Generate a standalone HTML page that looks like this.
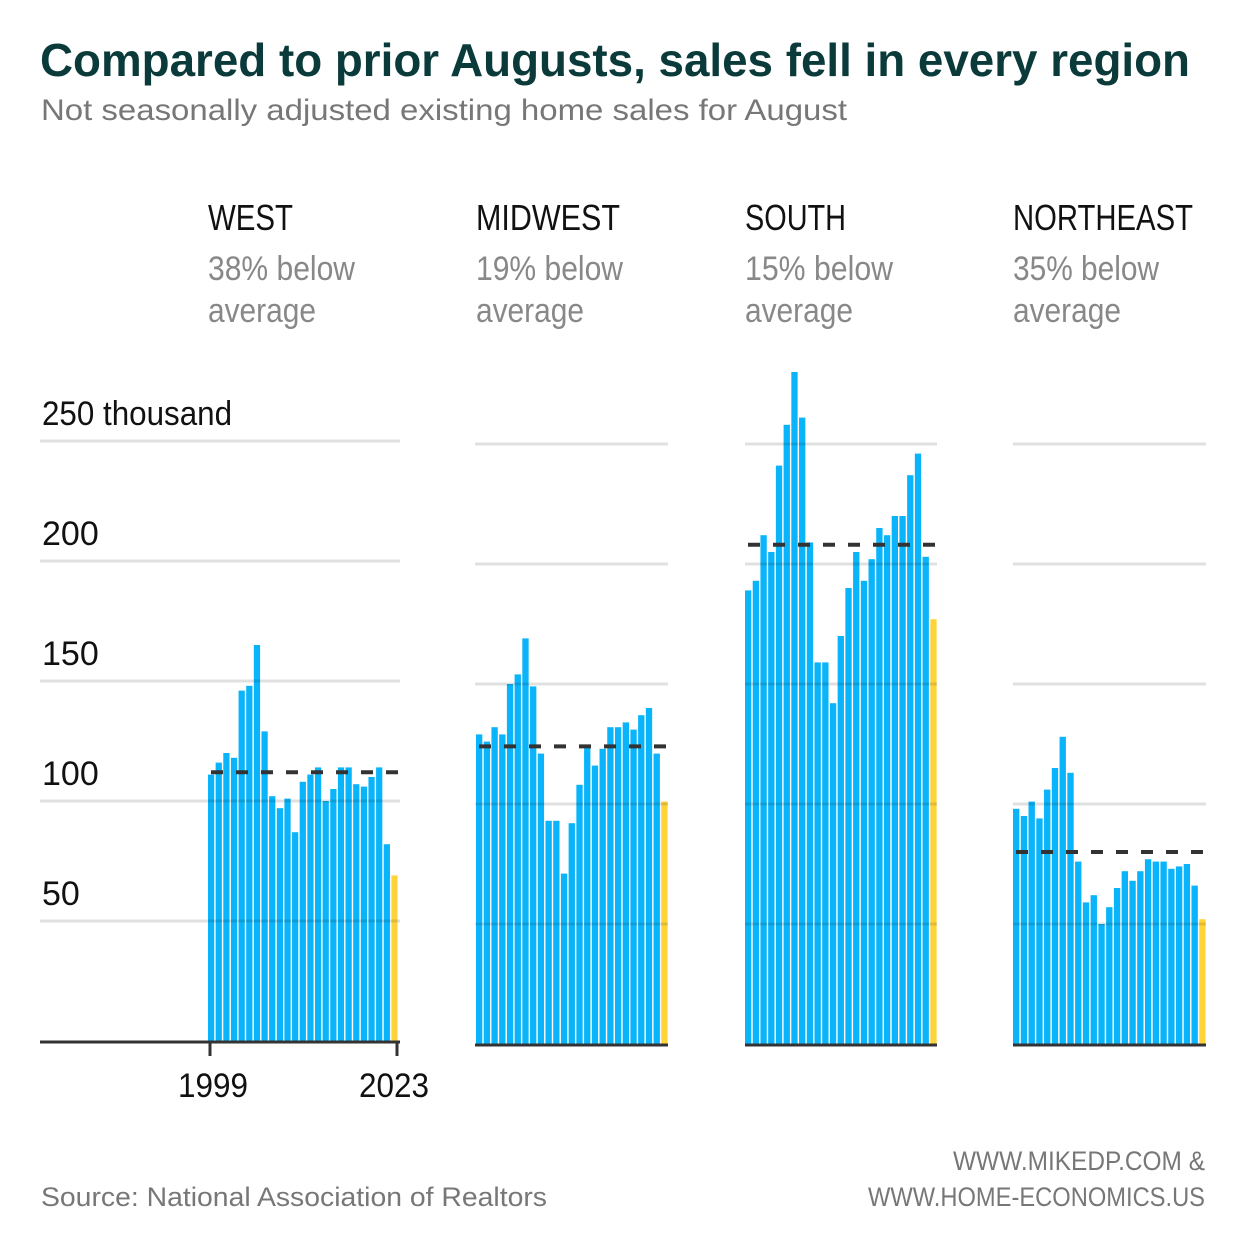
<!DOCTYPE html>
<html><head><meta charset="utf-8"><style>
body{margin:0;background:#fff}
svg text{font-family:"Liberation Sans",sans-serif}
</style></head><body>
<svg id="c" width="1250" height="1250" viewBox="0 0 1250 1250" xmlns="http://www.w3.org/2000/svg">
<text x="40" y="76" font-size="46" font-weight="bold" fill="#0b3a3a" textLength="1150" lengthAdjust="spacingAndGlyphs">Compared to prior Augusts, sales fell in every region</text>
<text x="41" y="120" font-size="30" fill="#777" textLength="806" lengthAdjust="spacingAndGlyphs">Not seasonally adjusted existing home sales for August</text>
<text x="41" y="1206" font-size="27" fill="#777" textLength="506" lengthAdjust="spacingAndGlyphs">Source: National Association of Realtors</text>
<text x="953" y="1170" font-size="27" fill="#777" textLength="252" lengthAdjust="spacingAndGlyphs">WWW.MIKEDP.COM &amp;</text>
<text x="868" y="1206" font-size="27" fill="#777" textLength="337" lengthAdjust="spacingAndGlyphs">WWW.HOME-ECONOMICS.US</text>
<g id="plot"></g>
</svg>
<script>
const regions = ["WEST","MIDWEST","SOUTH","NORTHEAST"];
const notes = ["38% below","19% below","15% below","35% below"];
const years = [1999,2023];
const yTicks = [50,100,150,200,250];
const west = [111,116,120,118,146,148,165,129,102,97,101,87,108,111,114,100,105,114,114,107,106,110,114,82,69];
const midwest = [129,126,132,129,150,154,169,149,121,93,93,71,92,108,124,116,123,132,132,134,131,137,140,121,101];
const south = [189,193,212,205,241,258,280,261,209,159,159,142,170,190,205,193,202,215,212,220,220,237,246,203,177];
const northeast = [98,95,101,94,106,115,128,113,76,59,62,50,57,65,72,68,72,77,76,76,73,74,75,66,52];
const averages = [112,124,208,80];
const series = [west,midwest,south,northeast];

const svg = document.getElementById('plot');
const NS = "http://www.w3.org/2000/svg";
function mk(tag, attrs){const e=document.createElementNS(NS,tag);for(const k in attrs)e.setAttribute(k,attrs[k]);svg.appendChild(e);return e;}
const panels = [
 {gx0:40,gx1:400,bx0:208,bx1:399,base:1041},
 {gx0:475,gx1:668,bx0:476,bx1:669,base:1044},
 {gx0:745,gx1:937,bx0:745,bx1:938,base:1044},
 {gx0:1013,gx1:1206,bx0:1013,bx1:1207,base:1044}
];
const labelW = [85,144,101,180];
const noteW = [147,147,148,146];
const K = 2.4;
panels.forEach((p,pi)=>{
  const y = v => p.base - v*K;
  const data = series[pi];
  const pitch = (p.bx1-p.bx0)/data.length;
  data.forEach((v,i)=>{
    const r = mk('rect',{x:(p.bx0+i*pitch).toFixed(2),y:y(v).toFixed(2),width:(pitch-1.4).toFixed(2),height:(v*K).toFixed(2),fill:i===data.length-1?'#ffd43b':'#0ab4fb'});
    
    
  });
  yTicks.forEach(t=>{
    const l = mk('line',{x1:p.gx0,x2:p.gx1,y1:y(t),y2:y(t),stroke:'rgba(0,0,0,0.12)','stroke-width':3});
    
    
  });
  const a = mk('line',{x1:p.bx0+3,x2:p.bx1,y1:y(averages[pi]),y2:y(averages[pi]),stroke:'#333','stroke-width':4,'stroke-dasharray':'12 13'});
  
  
  const b = mk('line',{x1:p.gx0,x2:p.gx1,y1:p.base+1,y2:p.base+1,stroke:'#333','stroke-width':3});
  
  
  const h = mk('text',{x:p.bx0,y:230,'font-size':36,fill:'#111',textLength:labelW[pi],lengthAdjust:'spacingAndGlyphs'});
  h.textContent = regions[pi];
  
  
  const n1 = mk('text',{x:p.bx0,y:280,'font-size':34,fill:'#888',textLength:noteW[pi],lengthAdjust:'spacingAndGlyphs'});
  n1.textContent = notes[pi];
  
  
  const n2 = mk('text',{x:p.bx0,y:322,'font-size':34,fill:'#888',textLength:108,lengthAdjust:'spacingAndGlyphs'});
  n2.textContent = 'average';
  
  
  if(pi===0){
    yTicks.forEach(t=>{
      const tx = mk('text',{x:42,y:y(t)-16,'font-size':34,fill:'#111'});
      tx.textContent = t===250 ? '250 thousand' : String(t);
      if(t===250){tx.setAttribute('textLength','190');tx.setAttribute('lengthAdjust','spacingAndGlyphs');}
      
      
    });
    years.forEach((yr,k)=>{
      const xi = p.bx0 + (yr-1999)*pitch + (k? pitch-2 : 2);
      const tk = mk('line',{x1:xi,x2:xi,y1:p.base,y2:p.base+15,stroke:'#333','stroke-width':3});
      
      
      const tl = mk('text',{x:k?xi-38:xi-32,y:1097,'font-size':34,fill:'#111',textLength:70,lengthAdjust:'spacingAndGlyphs'});
      tl.textContent = String(yr);
      
      
    });
  }
});
</script>
</body></html>
